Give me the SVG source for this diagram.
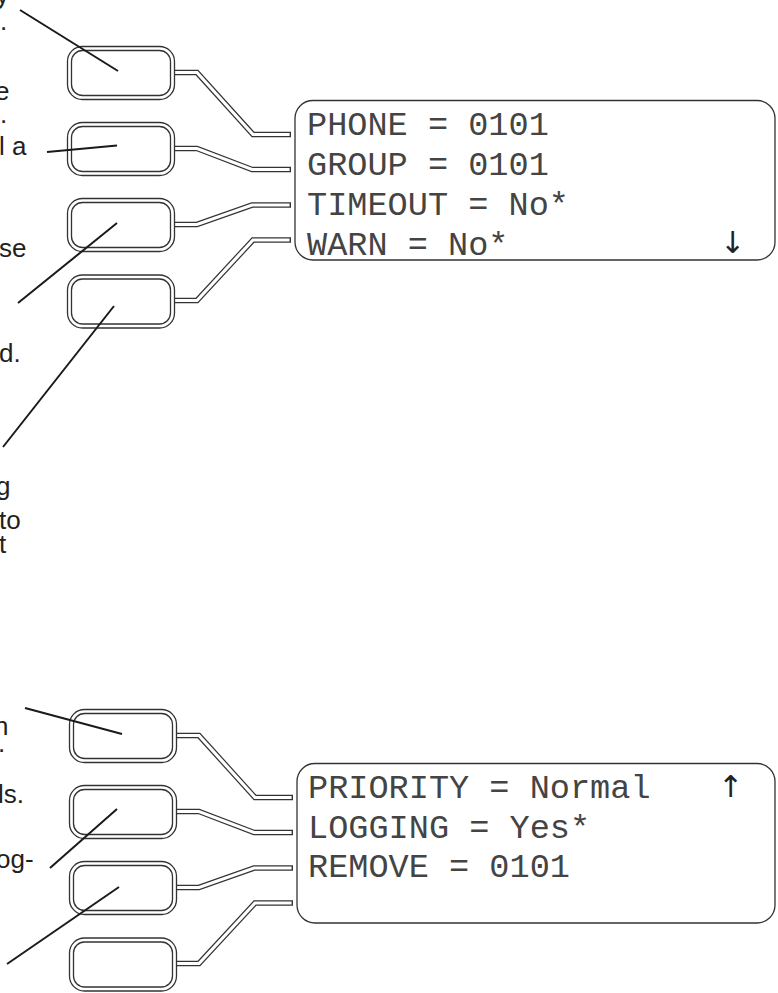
<svg xmlns="http://www.w3.org/2000/svg" width="778" height="993" viewBox="0 0 778 993">
<style>
.frag{font-family:"Liberation Sans",Arial,sans-serif;font-size:26px;fill:#231f20}
.lcd{font-family:"Liberation Mono","DejaVu Sans Mono",monospace;font-size:33.6px;fill:#444}
.arw{font-family:"DejaVu Sans",sans-serif;font-size:30px;fill:#222}
.btnO,.btnI{fill:#fff;stroke:#333;stroke-width:1.3}
.disp{fill:#fff;stroke:#333;stroke-width:1.3}
.wireO{fill:none;stroke:#333;stroke-width:5.6;stroke-linejoin:miter}
.wireI{fill:none;stroke:#fff;stroke-width:3.2;stroke-linejoin:miter}
.lead{fill:none;stroke:#1a1a1a;stroke-width:2;stroke-linecap:butt}
</style>
<defs>
<g id="button">
<rect class="btnO" x="0.5" y="0.5" width="107" height="53" rx="15"/>
<rect class="btnI" x="4.5" y="4.5" width="99" height="45" rx="11"/>
</g>
</defs>
<rect width="778" height="993" fill="#fff"/>

<g id="texts-top">
<text class="frag" x="-4" y="4">y</text>
<text class="frag" x="0" y="30">.</text>
<text class="frag" x="-5" y="100">e</text>
<text class="frag" x="0" y="123">.</text>
<text class="frag" x="-1" y="155">l a</text>
<text class="frag" x="-1" y="257">se</text>
<text class="frag" x="-1" y="362">d.</text>
<text class="frag" x="-4" y="495">g</text>
<text class="frag" x="-1" y="529">to</text>
<text class="frag" x="-1" y="553">t</text>
</g>
<g id="texts-bottom">
<text class="frag" x="-6" y="735">n</text>
<text class="frag" x="-2" y="752">.</text>
<text class="frag" x="-2" y="803">ls.</text>
<text class="frag" x="-4" y="868">og-</text>
</g>

<g id="connectors">
<path class="wireO" d="M174,72.5 H197 L253,134.5 H291"/>
<path class="wireI" d="M173,72.5 H197 L253,134.5 H289.6"/>
<path class="wireO" d="M174,148.5 H197 L252,169.5 H291"/>
<path class="wireI" d="M173,148.5 H197 L252,169.5 H289.6"/>
<path class="wireO" d="M174,224.5 H197 L252,205 H291"/>
<path class="wireI" d="M173,224.5 H197 L252,205 H289.6"/>
<path class="wireO" d="M174,300.5 H197 L253,240 H291"/>
<path class="wireI" d="M173,300.5 H197 L253,240 H289.6"/>

<path class="wireO" d="M176,735.5 H199 L255,797.5 H293"/>
<path class="wireI" d="M175,735.5 H199 L255,797.5 H291.6"/>
<path class="wireO" d="M176,811.5 H199 L254,832.5 H293"/>
<path class="wireI" d="M175,811.5 H199 L254,832.5 H291.6"/>
<path class="wireO" d="M176,887.5 H199 L254,868 H293"/>
<path class="wireI" d="M175,887.5 H199 L254,868 H291.6"/>
<path class="wireO" d="M176,963.5 H199 L255,903 H293"/>
<path class="wireI" d="M175,963.5 H199 L255,903 H291.6"/>
</g>

<g id="btn-t1"><use href="#button" x="67" y="46"/></g>
<g id="btn-t2"><use href="#button" x="67" y="122"/></g>
<g id="btn-t3"><use href="#button" x="67" y="198"/></g>
<g id="btn-t4"><use href="#button" x="67" y="274.5"/></g>
<g id="btn-b1"><use href="#button" x="69" y="709"/></g>
<g id="btn-b2"><use href="#button" x="69" y="785"/></g>
<g id="btn-b3"><use href="#button" x="69" y="861"/></g>
<g id="btn-b4"><use href="#button" x="69" y="937.5"/></g>

<g id="display-1">
<rect class="disp" x="295" y="100.5" width="480" height="159.5" rx="18"/>
<text class="lcd" x="307" y="135">PHONE = 0101</text>
<text class="lcd" x="307" y="174.5">GROUP = 0101</text>
<text class="lcd" x="307" y="215">TIMEOUT = No*</text>
<text class="lcd" x="307" y="254.5">WARN = No*</text>
<text class="arw" x="720" y="253">↓</text>
</g>

<g id="display-2">
<rect class="disp" x="297" y="763.5" width="478" height="159.5" rx="18"/>
<text class="lcd" x="308" y="798">PRIORITY = Normal</text>
<text class="lcd" x="308" y="837.5">LOGGING = Yes*</text>
<text class="lcd" x="308" y="877">REMOVE = 0101</text>
<text class="arw" x="718" y="797">↑</text>
</g>

<g id="leaders">
<line class="lead" x1="20" y1="10" x2="118" y2="71"/>
<line class="lead" x1="47" y1="152" x2="117" y2="145.5"/>
<line class="lead" x1="18" y1="303" x2="117" y2="223"/>
<line class="lead" x1="3" y1="447" x2="114" y2="306"/>
<line class="lead" x1="25" y1="708" x2="122" y2="734"/>
<line class="lead" x1="50" y1="868" x2="117" y2="809"/>
<line class="lead" x1="7" y1="964" x2="119" y2="887"/>
</g>
</svg>
